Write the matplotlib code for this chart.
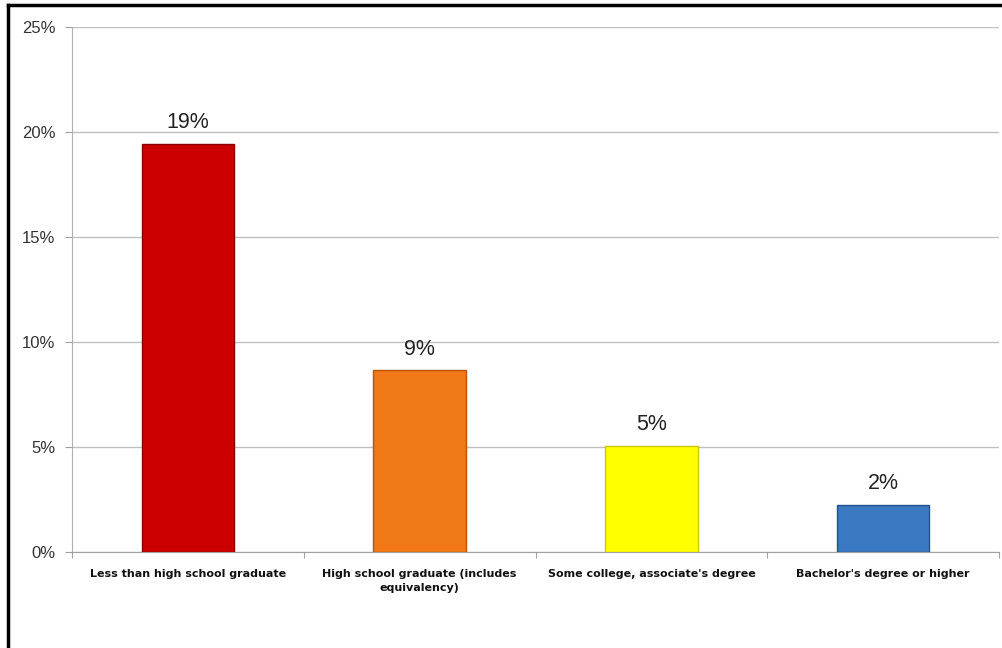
import matplotlib.pyplot as plt
from matplotlib.lines import Line2D
import numpy as np

categories = ["Less than high school graduate",
              "High school graduate (includes\nequivalency)",
              "Some college, associate's degree",
              "Bachelor's degree or higher"]
values = [19.45, 8.65, 5.05, 2.25]  # percent
labels = ["19%", "9%", "5%", "2%"]
colors = ["#cc0000", "#f07816", "#ffff00", "#3b78c2"]
edges = ["#8a0000", "#b85608", "#c8c800", "#25528a"]

fig = plt.figure(figsize=(10.02, 6.48), dpi=100)
ax = fig.add_axes([0.0719, 0.1481, 0.9251, 0.8102])

x = np.arange(len(categories))
ax.bar(x, values, width=0.4, color=colors, edgecolor=edges, linewidth=1, zorder=3)
for xi, v, lab in zip(x, values, labels):
    ax.text(xi, v + 0.5, lab, ha='center', va='bottom', fontsize=15.5,
            family='Liberation Sans', color='#222222')

ax.set_xlim(-0.5, len(categories) - 0.5)
ax.set_ylim(0, 25)
ax.set_yticks(range(0, 26, 5))
ax.set_yticklabels([f"{t}%" for t in range(0, 26, 5)], family='Liberation Sans',
                   fontsize=12, color='#333333')
ax.yaxis.grid(True, color='#c0c0c0', linewidth=1, zorder=0)

# category labels between tick marks at boundaries
ax.set_xticks(np.arange(-0.5, len(categories), 1.0))
ax.set_xticklabels([])
ax.set_xticks(x, minor=True)
ax.set_xticklabels(categories, minor=True, fontsize=8, fontweight='bold',
                   family='DejaVu Sans', color='#111111', linespacing=1.6)
ax.tick_params(axis='x', which='minor', length=0, pad=12)
ax.tick_params(axis='x', which='major', length=4, color='#a0a0a0', direction='out')
ax.tick_params(axis='y', length=5, color='#a0a0a0', pad=7)

for s in ['top', 'right']:
    ax.spines[s].set_visible(False)
ax.spines['left'].set_color('#b0b0b0')
ax.spines['bottom'].set_color('#a0a0a0')

# frame lines on left and top of the picture
fig.add_artist(Line2D([0.008, 0.008], [0, 0.993], transform=fig.transFigure,
                      color='black', linewidth=2.5))
fig.add_artist(Line2D([0.008, 1], [0.993, 0.993], transform=fig.transFigure,
                      color='black', linewidth=2.5))

plt.savefig('out.png', dpi=100)
